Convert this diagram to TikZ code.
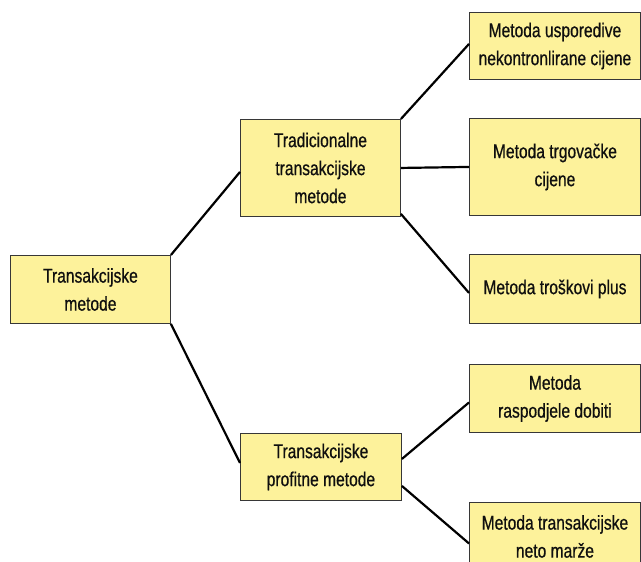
\documentclass[tikz,border=0pt]{standalone}
\usepackage{fontspec}
\setmainfont[FakeStretch=0.78,FakeBold=0.6]{Liberation Sans}
\definecolor{boxfill}{RGB}{253,242,155}
\definecolor{boxline}{RGB}{55,55,55}
\definecolor{boxtext}{RGB}{15,15,15}

\begin{document}
\begin{tikzpicture}[x=1bp,y=-1bp]
        \tikzstyle{method}=[draw=boxline,fill=boxfill,text=boxtext,line width=0.9bp,align=center,inner sep=0pt,anchor=north west,font=\fontsize{20bp}{28bp}\selectfont]
        \tikzstyle{branch}=[method,minimum width=160bp]
        \tikzstyle{leaf}=[method,minimum width=171bp]
        \tikzstyle{link}=[draw=black,line width=2.2bp]
        \useasboundingbox (0,0) rectangle (641,562);
        % left and middle column
        \node[branch,minimum height=68bp] (root) at (10,255) {Transakcijske\\metode};
        \node[branch,minimum height=97bp] (trad) at (240,119) {Tradicionalne\\transakcijske\\metode};
        \node[branch,minimum width=161bp,minimum height=67bp] (profit) at (240,433) {Transakcijske\\profitne metode};
        % right column
        \node[leaf,minimum height=67bp] (usp) at (469,12) {Metoda usporedive\\nekontronlirane cijene};
        \node[leaf,minimum height=97bp] (trg) at (469,118) {Metoda trgova\v{c}ke\\cijene};
        \node[leaf,minimum height=69bp] (tros) at (469,254) {Metoda tro\v{s}kovi plus};
        \node[leaf,minimum height=68bp] (rasp) at (469,364) {Metoda\\raspodjele dobiti};
        \node[leaf,minimum height=68bp] (neto) at (469,502) {Metoda transakcijske\\neto mar\v{z}e};
        \draw[link] (root.north east) -- ([yshift=-4bp]trad.west);
        \draw[link] (root.south east) -- ([yshift=4bp]profit.west);
        \draw[link] (trad.north east) -- ([yshift=2bp]usp.west);
        \draw[link] (trad.east) -- (trg.west);
        \draw[link] ([yshift=3bp]trad.south east) -- ([yshift=-4bp]tros.west);
        \draw[link] ([yshift=8bp]profit.east) -- ([yshift=-4bp]rasp.west);
        \draw[link] ([yshift=-19bp]profit.east) -- ([yshift=-7bp]neto.west);
\end{tikzpicture}
\end{document}
